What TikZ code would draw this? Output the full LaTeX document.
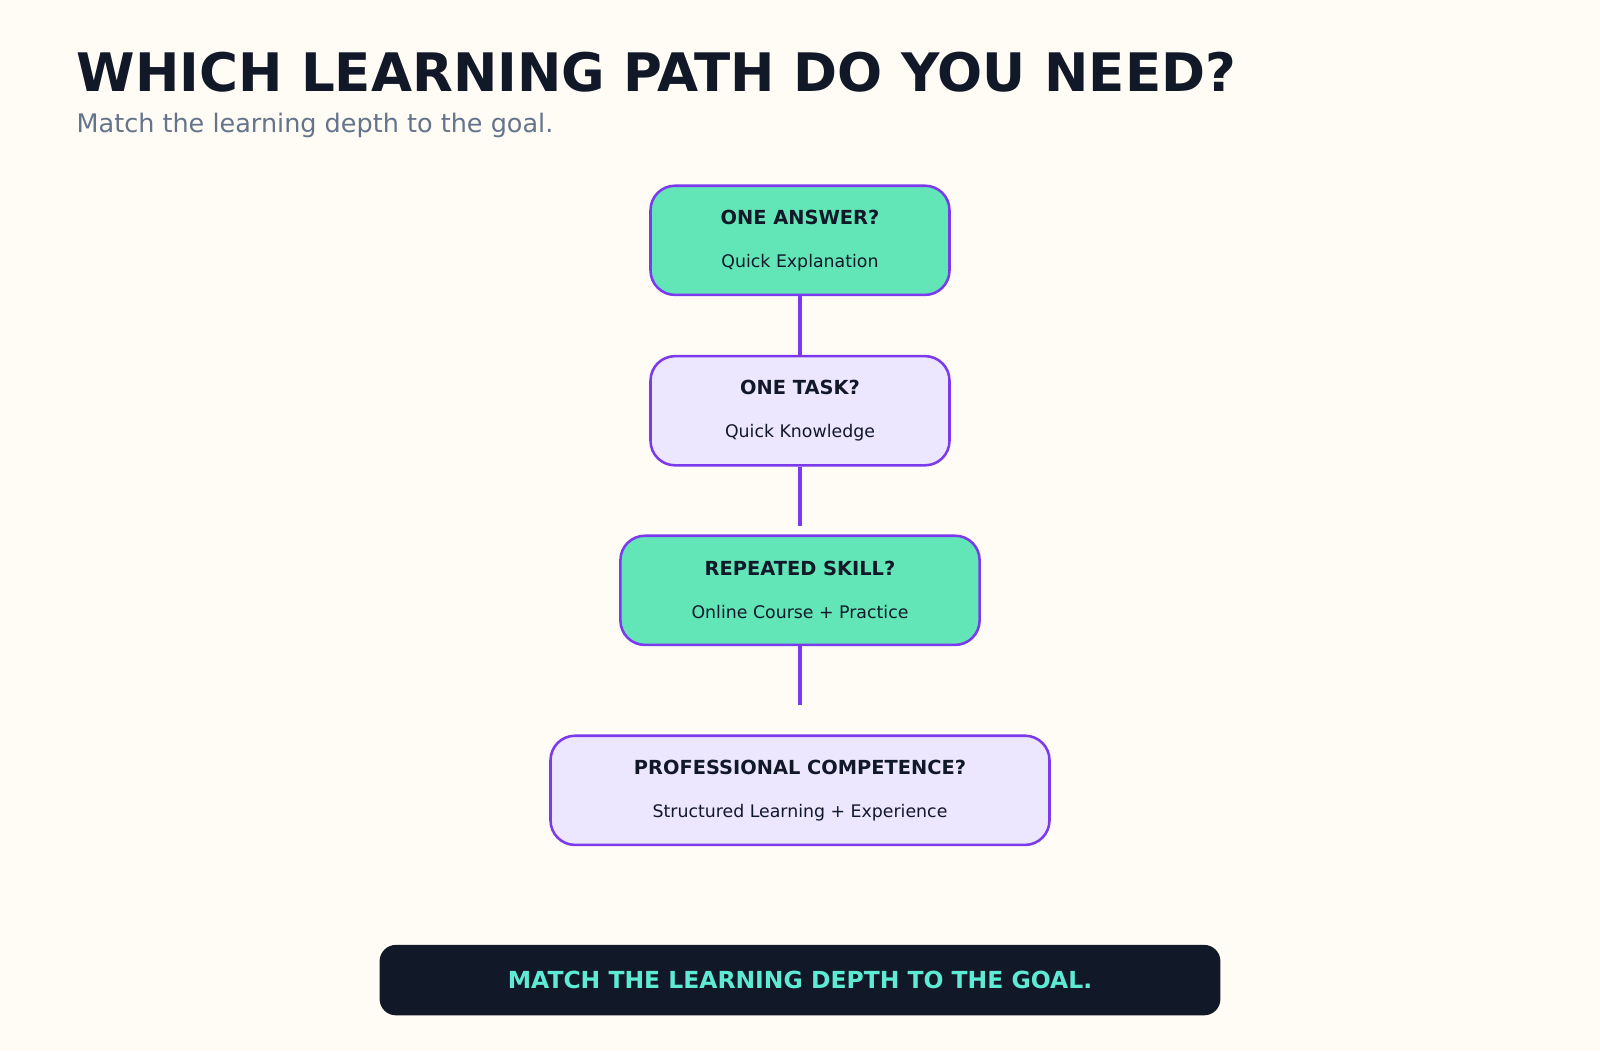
\documentclass[tikz,border=0pt]{standalone}
\usepackage{fontspec}
\setmainfont{DejaVu Sans}
\usetikzlibrary{positioning}
\definecolor{bg}{HTML}{FFFBF5}
\definecolor{ink}{HTML}{111827}
\definecolor{slate}{HTML}{64748B}
\definecolor{violet}{HTML}{7C3AED}
\definecolor{mint}{HTML}{62E6B8}
\definecolor{lav}{HTML}{EDE6FF}
\definecolor{teal}{HTML}{5EEAD4}
\begin{document}
\begin{tikzpicture}[x=0.5pt,y=-0.5pt,
    stage/.style={draw=violet, line width=1.25pt, rounded corners=12pt, align=center,
      text=ink, inner sep=0pt, minimum height=53.5pt},
    link/.style={draw=violet, line width=2pt}]
  \fill[bg] (0,0) rectangle (1568,1030);
  \useasboundingbox (0,0) rectangle (1568,1030);
  \node[anchor=base west, text=ink, font=\fontsize{26}{30}\selectfont\bfseries] (title) at (68,90) {WHICH LEARNING PATH DO YOU NEED?};
  \node[anchor=base west, text=slate, font=\fontsize{12.5}{15}\selectfont] (sub) at (68,130) {Match the learning depth to the goal.};

  \node[stage, fill=mint, minimum width=146.5pt] (answer) at (784,235.5)
    {{\fontsize{9.5}{11}\selectfont\bfseries ONE ANSWER?}\\[9pt]{\fontsize{8.5}{10}\selectfont Quick Explanation}};
  \node[stage, fill=lav, minimum width=146.5pt] (task) at (784,402.5)
    {{\fontsize{9.5}{11}\selectfont\bfseries ONE TASK?}\\[9pt]{\fontsize{8.5}{10}\selectfont Quick Knowledge}};
  \node[stage, fill=mint, minimum width=176pt] (skill) at (784,578.5)
    {{\fontsize{9.5}{11}\selectfont\bfseries REPEATED SKILL?}\\[9pt]{\fontsize{8.5}{10}\selectfont Online Course + Practice}};
  \node[stage, fill=lav, minimum width=244.5pt] (pro) at (784,774.5)
    {{\fontsize{9.5}{11}\selectfont\bfseries PROFESSIONAL COMPETENCE?}\\[9pt]{\fontsize{8.5}{10}\selectfont Structured Learning + Experience}};

  \coordinate (endtask) at (784,515);
  \coordinate (endskill) at (784,691);
  \draw[link] (answer) -- (task);
  \draw[link] (task) -- (endtask);
  \draw[link] (skill) -- (endskill);

  \node[fill=ink, rounded corners=8pt, minimum width=412pt, minimum height=34.5pt,
    text=teal, font=\fontsize{11.5}{14}\selectfont\bfseries] (goal) at (784,960.5)
    {MATCH THE LEARNING DEPTH TO THE GOAL.};
\end{tikzpicture}
\end{document}
